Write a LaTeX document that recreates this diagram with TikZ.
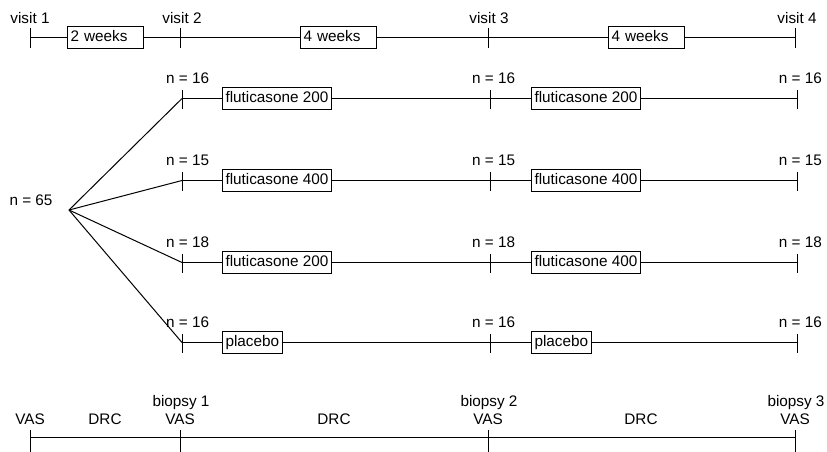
\documentclass[tikz,border=0pt]{standalone}
\usepackage{fontspec}
\setmainfont{Liberation Sans}
\usetikzlibrary{calc}
\begin{document}
\begin{tikzpicture}[x=1pt,y=-1pt,
  every node/.style={font=\fontsize{15.3}{18}\selectfont},
  lbl/.style={inner sep=0pt},
  box/.style={draw, line width=1pt, fill=white, inner xsep=3pt, inner ysep=3.5pt, text height=11.5pt, text depth=3.5pt, anchor=west},
  wkbox/.style={box, text width=70pt, align=left},
  conn/.style={line width=1pt},
  tickmark/.style={line width=1pt}]
\useasboundingbox (0,0) rectangle (827,451);

% ---------- top timeline ----------
\coordinate (v1) at (30,37.5);
\coordinate (v2) at (180,37.5);
\coordinate (v3) at (488,37.5);
\coordinate (v4) at (795,37.5);
\foreach \c in {v1,v2,v3,v4} \draw[tickmark] ($(\c)+(0,-10)$) -- ($(\c)+(0,10)$);
\node[lbl] (lv1) at (30,18) {visit 1};
\node[lbl] (lv2) at (182,18) {visit 2};
\node[lbl] (lv3) at (489,18) {visit 3};
\node[lbl] (lv4) at (797,18) {visit 4};
\node[wkbox] (w2) at (67,37.5) {2 weeks};
\node[wkbox] (w4a) at (300,37.5) {4 weeks};
\node[wkbox] (w4b) at (608,37.5) {4 weeks};
\draw[conn] (v1) -- (w2.west);
\draw[conn] (w2.east) -- (v2);
\draw[conn] (v2) -- (w4a.west);
\draw[conn] (w4a.east) -- (v3);
\draw[conn] (v3) -- (w4b.west);
\draw[conn] (w4b.east) -- (v4);

% ---------- arms ----------
\coordinate (fan) at (69,210);
\node[lbl] (n65) at (31,200) {n = 65};
\foreach \r/\y/\na/\nb/\nc/\ba/\bb in {
  1/98.5/16/16/16/fluticasone 200/fluticasone 200,
  2/180.5/15/15/15/fluticasone 400/fluticasone 400,
  3/262.5/18/18/18/fluticasone 200/fluticasone 400,
  4/342.5/16/16/16/placebo/placebo}{
  \coordinate (a\r) at (182,\y);
  \coordinate (b\r) at (490,\y);
  \coordinate (c\r) at (797,\y);
  \foreach \c in {a\r,b\r,c\r} \draw[tickmark] ($(\c)+(0,-9)$) -- ($(\c)+(0,10)$);
  \node[lbl,anchor=west] (na\r) at (166,\y-20) {n = \na};
  \node[lbl,anchor=west] (nb\r) at (472,\y-20) {n = \nb};
  \node[lbl,anchor=east] (nc\r) at (822,\y-20) {n = \nc};
  \node[box] (ba\r) at (222,\y) {\ba};
  \node[box] (bb\r) at (531,\y) {\bb};
  \draw[conn] (fan) -- (a\r);
  \draw[conn] (a\r) -- (ba\r.west);
  \draw[conn] (ba\r.east) -- (b\r);
  \draw[conn] (b\r) -- (bb\r.west);
  \draw[conn] (bb\r.east) -- (c\r);
}

% ---------- bottom timeline ----------
\coordinate (s1) at (30,437.5);
\coordinate (s2) at (180,437.5);
\coordinate (s3) at (488,437.5);
\coordinate (s4) at (795,437.5);
\foreach \c in {s1,s2,s3,s4} \draw[tickmark] ($(\c)+(0,-8)$) -- ($(\c)+(0,14)$);
\draw[conn] (s1) -- (s2);
\draw[conn] (s2) -- (s3);
\draw[conn] (s3) -- (s4);
\node[lbl] (vas1) at (30,419) {VAS};
\node[lbl] (vas2) at (180,419) {VAS};
\node[lbl] (vas3) at (488,419) {VAS};
\node[lbl] (vas4) at (795,419) {VAS};
\node[lbl] (drc1) at (105,419) {DRC};
\node[lbl] (drc2) at (334,419) {DRC};
\node[lbl] (drc3) at (641,419) {DRC};
\node[lbl] (bi1) at (181,403) {biopsy 1};
\node[lbl] (bi2) at (489,403) {biopsy 2};
\node[lbl] (bi3) at (796,403) {biopsy 3};
\end{tikzpicture}
\end{document}
